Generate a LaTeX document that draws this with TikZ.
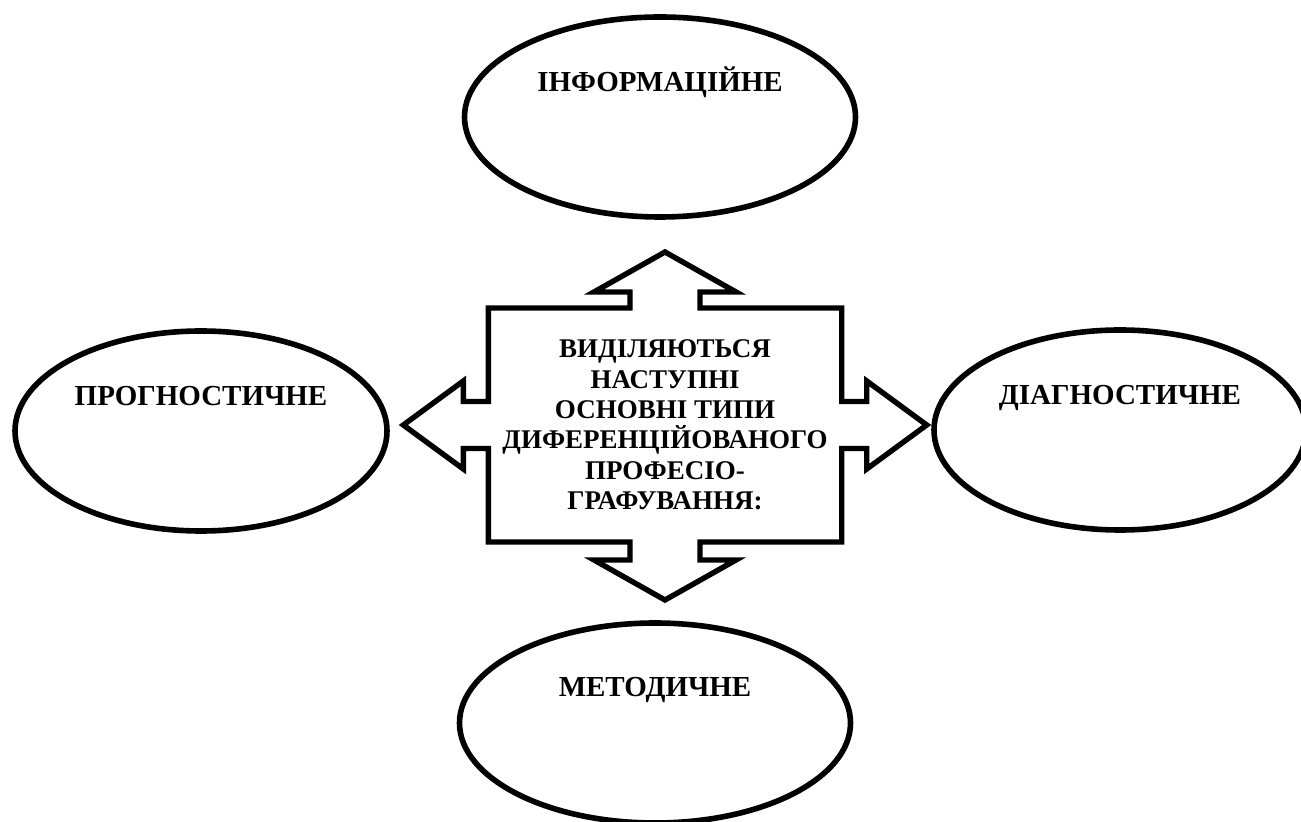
\documentclass[tikz,border=0pt]{standalone}
\usepackage{fontspec}
\setmainfont{Liberation Serif}
\usetikzlibrary{shapes.geometric}

\begin{document}
\begin{tikzpicture}[
    x=0.5pt, y=-0.5pt,
    oval/.style={ellipse, draw, line width=2.8pt, inner sep=0pt,
                 minimum height=100pt},
    caption/.style={font=\fontsize{14.5}{17}\selectfont\bfseries,
                    anchor=base, inner sep=0pt},
    core/.style={font=\fontsize{13.5}{15.15}\selectfont\bfseries,
                 align=center, inner sep=0pt},
    outline/.style={draw, line width=2.7pt, line join=miter},
]

    \clip (0,0) rectangle (1301,822);
    \useasboundingbox (0,0) rectangle (1301,822);

    % outer ovals
    \node[oval, minimum width=195.5pt] (inform) at (660,117) {};
    \node[oval, minimum width=186pt] (prognos) at (201,431) {};
    \node[oval, minimum width=186pt] (diagnos) at (1120,430) {};
    \node[oval, minimum width=195.5pt] (method) at (655,723) {};
    \node[caption] (inform-t) at (660,92) {ІНФОРМАЦІЙНЕ};
    \node[caption] (prognos-t) at (201,406) {ПРОГНОСТИЧНЕ};
    \node[caption] (diagnos-t) at (1120,405) {ДІАГНОСТИЧНЕ};
    \node[caption] (method-t) at (655,697) {МЕТОДИЧНЕ};

    % central box with four arrows
    \draw[outline] (488.3,308) -- (630,308) -- (630,292) -- (594,292)
        -- (665,252) -- (736,292) -- (700,292) -- (700,308)
        -- (841.7,308) -- (841.7,401.5) -- (866.7,401.5) -- (866.7,381)
        -- (926.7,425) -- (866.7,469) -- (866.7,448.5) -- (841.7,448.5)
        -- (841.7,542) -- (700,542) -- (700,560) -- (736,560)
        -- (665,600) -- (594,560) -- (630,560) -- (630,542)
        -- (488.3,542) -- (488.3,448.5) -- (463.3,448.5) -- (463.3,469)
        -- (403.3,425) -- (463.3,381) -- (463.3,401.5) -- (488.3,401.5)
        -- cycle;
    \node[core] (types) at (665,425) {ВИДІЛЯЮТЬСЯ\\НАСТУПНІ\\ОСНОВНІ ТИПИ\\
        ДИФЕРЕНЦІЙОВАНОГО\\ПРОФЕСІО-\\ГРАФУВАННЯ:};

\end{tikzpicture}
\end{document}
